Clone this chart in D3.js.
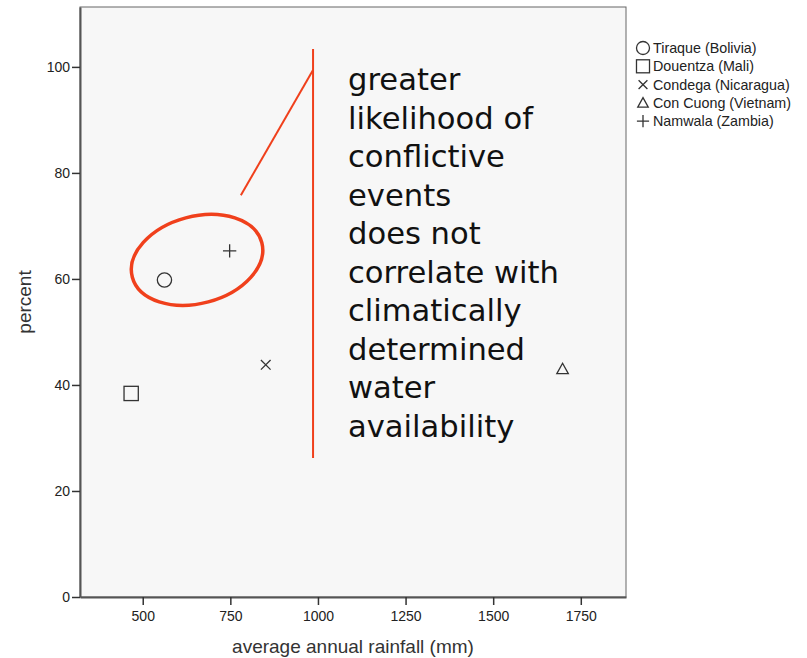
<!DOCTYPE html>
<html><head><meta charset="utf-8">
<script src="https://cdn.jsdelivr.net/npm/d3@7/dist/d3.min.js"></script>
<style>body{margin:0;background:#fff}svg{display:block}</style>
</head><body><svg id="c" width="807" height="658"></svg>
<script>
const sites = ["Tiraque (Bolivia)","Douentza (Mali)","Condega (Nicaragua)","Con Cuong (Vietnam)","Namwala (Zambia)"];
const symbols = ["circle","square","cross","triangle","plus"];
const rainfall = [562, 467, 851, 1698, 748];
const percent = [59.8, 38.4, 43.8, 43.0, 65.3];
const xTicks = [500, 750, 1000, 1250, 1500, 1750];
const yTicks = [0, 20, 40, 60, 80, 100];
const noteLines = ["greater","likelihood of","conflictive","events","does not","correlate with","climatically","determined","water","availability"];
// annotation anchors in data units
const ellipseCenter = [655, 63.6];
const pointerLine = [[780, 75.8],[986, 99.4]];
const dividerLine = [[986, 26.2],[986, 103.4]];

const svg = d3.select("#c");
const L=80, R=626, T=7, B=597;
const x = d3.scaleLinear().domain([321, 1879]).range([L, R]);
const y = d3.scaleLinear().domain([0, 111.3]).range([B, T]);
const red = "#f0401c";
const sans = "'Liberation Sans', Arial, sans-serif";

svg.append("rect").attr("x",L).attr("y",T).attr("width",R-L).attr("height",B-T)
  .attr("fill","#f7f7f7").attr("stroke","#666").attr("stroke-width",1);

const xa = svg.append("g").attr("transform",`translate(0,${B})`)
  .call(d3.axisBottom(x).tickValues(xTicks).tickFormat(d3.format("d")).tickSize(8).tickSizeOuter(0).tickPadding(6));
const ya = svg.append("g").attr("transform",`translate(${L},0)`)
  .call(d3.axisLeft(y).tickValues(yTicks).tickFormat(d3.format("d")).tickSize(8).tickSizeOuter(0).tickPadding(2));
[xa,ya].forEach(a=>{
  a.select(".domain").attr("stroke","#555").attr("stroke-width",2);
  a.selectAll(".tick line").attr("stroke","#333").attr("stroke-width",1.5);
  a.selectAll("text").attr("font-family",sans).attr("font-size",14).attr("fill","#222");
});

svg.append("text").attr("x",(L+R)/2).attr("y",653).attr("text-anchor","middle")
  .attr("font-family",sans).attr("font-size",19).attr("fill","#333")
  .text("average annual rainfall (mm)");
svg.append("text").attr("transform",`translate(31,${(T+B)/2}) rotate(-90)`).attr("text-anchor","middle")
  .attr("font-family",sans).attr("font-size",19).attr("fill","#333")
  .text("percent");

function drawSym(g, type, cx, cy, s){
  const st = {fill:"none", stroke:"#333", "stroke-width":1.3};
  let el;
  if(type==="circle") el = g.append("circle").attr("cx",cx).attr("cy",cy).attr("r",s*0.62);
  else if(type==="square") el = g.append("rect").attr("x",cx-s*0.62).attr("y",cy-s*0.62).attr("width",s*1.24).attr("height",s*1.24);
  else if(type==="cross"){ const h=s*0.42; el = g.append("path").attr("d",`M${cx-h},${cy-h}L${cx+h},${cy+h}M${cx-h},${cy+h}L${cx+h},${cy-h}`);}
  else if(type==="plus"){ const h=s*0.58; el = g.append("path").attr("d",`M${cx-h},${cy}L${cx+h},${cy}M${cx},${cy-h}L${cx},${cy+h}`);}
  else if(type==="triangle"){ const h=s*0.5; el = g.append("path").attr("d",`M${cx},${cy-h}L${cx+h},${cy+h*0.8}L${cx-h},${cy+h*0.8}Z`);}
  Object.entries(st).forEach(([k,v])=>el.attr(k,v));
}
const pts = svg.append("g");
sites.forEach((s,i)=>drawSym(pts, symbols[i], x(rainfall[i]), y(percent[i]), 11.5));

// legend
const lg = svg.append("g");
sites.forEach((s,i)=>{
  const ly = 48 + i*18.3;
  drawSym(lg, symbols[i], 643, ly, 10.5);
  lg.append("text").attr("x",653).attr("y",ly+5).attr("font-family",sans)
    .attr("font-size",14.3).attr("fill","#222").text(s);
});

// annotations
svg.append("ellipse").attr("cx",0).attr("cy",0).attr("rx",67).attr("ry",43.5)
  .attr("transform",`translate(${x(ellipseCenter[0])},${y(ellipseCenter[1])}) rotate(-15)`)
  .attr("fill","none").attr("stroke",red).attr("stroke-width",3.5);
const line = d3.line().x(d=>x(d[0])).y(d=>y(d[1]));
svg.append("path").attr("d",line(pointerLine)).attr("stroke",red).attr("stroke-width",2).attr("fill","none");
svg.append("path").attr("d",line(dividerLine)).attr("stroke",red).attr("stroke-width",2).attr("fill","none");

const nt = svg.append("text").attr("font-family","'DejaVu Sans', sans-serif").attr("font-size",30.6).attr("fill","#111");
noteLines.forEach((t,i)=>nt.append("tspan").attr("x",348).attr("y",90+i*38.5).text(t));
</script></body></html>
